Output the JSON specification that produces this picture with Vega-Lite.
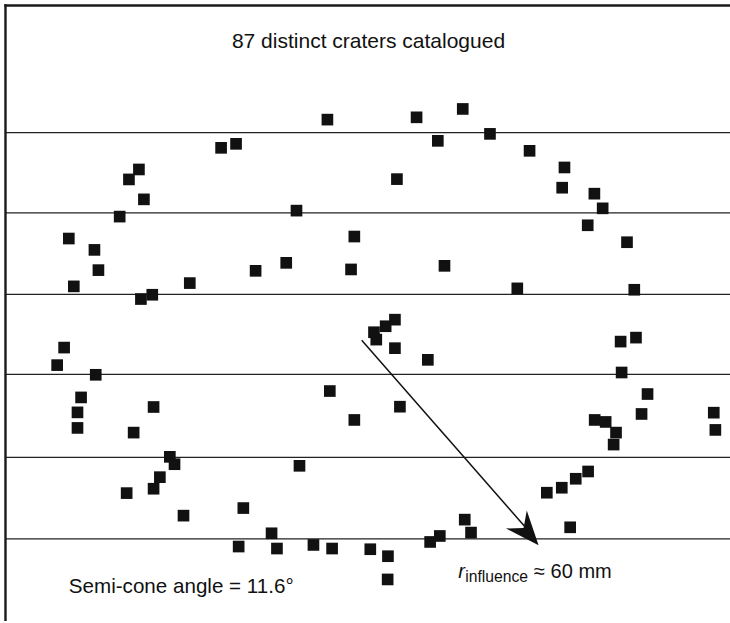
{
  "$schema": "https://vega.github.io/schema/vega-lite/v6.json",
  "width": 740,
  "height": 623,
  "autosize": {"type": "fit", "contains": "padding"},
  "padding": 0,
  "background": "white",
  "config": {"view": {"stroke": null}, "axis": {"disable": true}},
  "datasets": {
    "craters": [
      {"x": 328.3, "y": 120}, {"x": 221.7, "y": 148.3}, {"x": 236.7, "y": 144.3}, {"x": 139.3, "y": 170},
      {"x": 129.3, "y": 180}, {"x": 144.3, "y": 200}, {"x": 120, "y": 217.3}, {"x": 297.3, "y": 211.3},
      {"x": 69, "y": 239.3}, {"x": 94.7, "y": 250.7}, {"x": 98.7, "y": 271}, {"x": 74, "y": 287.3},
      {"x": 256.3, "y": 271.7}, {"x": 287, "y": 263.7}, {"x": 355.3, "y": 237.3}, {"x": 352, "y": 270.3},
      {"x": 190.3, "y": 284}, {"x": 141.3, "y": 300}, {"x": 152.7, "y": 295.7},
      {"x": 417.7, "y": 117.7}, {"x": 464, "y": 109.3}, {"x": 439, "y": 141.3}, {"x": 491.3, "y": 134.3},
      {"x": 531, "y": 151.3}, {"x": 566, "y": 168}, {"x": 563.7, "y": 188.3}, {"x": 596, "y": 194.3},
      {"x": 604.3, "y": 209}, {"x": 589.3, "y": 226}, {"x": 628.7, "y": 243}, {"x": 398, "y": 179.7},
      {"x": 445.7, "y": 266.7}, {"x": 518.7, "y": 289.3}, {"x": 636, "y": 290.7},
      {"x": 64.3, "y": 348.7}, {"x": 57.3, "y": 366.3}, {"x": 96, "y": 376}, {"x": 81.3, "y": 398.7},
      {"x": 77.7, "y": 413.7}, {"x": 77.7, "y": 429.3}, {"x": 154, "y": 408.3}, {"x": 134, "y": 434},
      {"x": 330.7, "y": 392.3}, {"x": 355.3, "y": 421.3}, {"x": 170.3, "y": 458.3}, {"x": 175, "y": 465.7},
      {"x": 160.3, "y": 478.7}, {"x": 154, "y": 490.3}, {"x": 127, "y": 494.7}, {"x": 184, "y": 517.3},
      {"x": 300.3, "y": 467.3}, {"x": 244, "y": 509.7}, {"x": 272.3, "y": 535}, {"x": 239.3, "y": 548.3},
      {"x": 277.7, "y": 550.3}, {"x": 314.3, "y": 546.7}, {"x": 333, "y": 550.3},
      {"x": 375, "y": 333.3}, {"x": 386.7, "y": 327.3}, {"x": 396, "y": 320.7}, {"x": 377.3, "y": 340.7},
      {"x": 396, "y": 349.3}, {"x": 429, "y": 361}, {"x": 401, "y": 408}, {"x": 622.3, "y": 342.7},
      {"x": 637.7, "y": 338.7}, {"x": 623.3, "y": 373.7}, {"x": 649.3, "y": 395.3}, {"x": 643.3, "y": 415.3},
      {"x": 596.3, "y": 421.3}, {"x": 607.3, "y": 423.3}, {"x": 617.7, "y": 434}, {"x": 615.3, "y": 446},
      {"x": 715.7, "y": 414}, {"x": 717.3, "y": 431.3}, {"x": 548.3, "y": 494.3}, {"x": 563.3, "y": 489.3},
      {"x": 577.3, "y": 480.3}, {"x": 589.7, "y": 473}, {"x": 571.7, "y": 529}, {"x": 466, "y": 521.3},
      {"x": 472.3, "y": 534.3}, {"x": 441, "y": 537.7}, {"x": 431.3, "y": 543.7}, {"x": 371.3, "y": 551},
      {"x": 389, "y": 558}, {"x": 388.7, "y": 581.3}
    ],
    "gridlines": [
      {"y": 133}, {"y": 213.5}, {"y": 295.3}, {"y": 375.5}, {"y": 458.8}, {"y": 540.7}
    ]
  },
  "layer": [
    {
      "data": {"name": "gridlines"},
      "mark": {"type": "rule", "color": "#222", "strokeWidth": 1.2},
      "encoding": {
        "y": {"field": "y", "type": "quantitative", "scale": {"domain": [0, 623], "reverse": true, "nice": false, "zero": false}, "axis": null},
        "x": {"datum": 6, "type": "quantitative", "scale": {"domain": [0, 740], "nice": false, "zero": false}, "axis": null},
        "x2": {"datum": 740}
      }
    },
    {
      "data": {"values": [{"y": 5.5}]},
      "mark": {"type": "rule", "color": "#1a1a1a", "strokeWidth": 2.4},
      "encoding": {
        "y": {"field": "y", "type": "quantitative", "axis": null},
        "x": {"datum": 4.3, "type": "quantitative", "axis": null},
        "x2": {"datum": 740}
      }
    },
    {
      "data": {"values": [{"x": 5.5}]},
      "mark": {"type": "rule", "color": "#1a1a1a", "strokeWidth": 2.4},
      "encoding": {
        "x": {"field": "x", "type": "quantitative", "axis": null},
        "y": {"datum": 4.3, "type": "quantitative", "axis": null},
        "y2": {"datum": 623}
      }
    },
    {
      "data": {"name": "craters"},
      "mark": {"type": "point", "shape": "square", "filled": true, "opacity": 1, "size": 136, "color": "#111"},
      "encoding": {
        "x": {"field": "x", "type": "quantitative", "axis": null},
        "y": {"field": "y", "type": "quantitative", "axis": null}
      }
    },
    {
      "data": {"values": [{"x": 362.7, "y": 341.3, "x2": 526, "y2": 528}]},
      "mark": {"type": "rule", "color": "#111", "strokeWidth": 1.5},
      "encoding": {
        "x": {"field": "x", "type": "quantitative", "axis": null},
        "y": {"field": "y", "type": "quantitative", "axis": null},
        "x2": {"field": "x2"},
        "y2": {"field": "y2"}
      }
    },
    {
      "data": {"values": [{"x": 528.9, "y": 534.1}]},
      "mark": {"type": "point", "shape": "M0,-1L0.81,1L0,0.35L-0.81,1Z", "filled": true, "opacity": 1, "size": 1156, "angle": 139.2, "color": "#111", "strokeWidth": 0},
      "encoding": {
        "x": {"field": "x", "type": "quantitative", "axis": null},
        "y": {"field": "y", "type": "quantitative", "axis": null}
      }
    },
    {
      "data": {"values": [{"x": 369.5, "y": 48, "label": "87 distinct craters catalogued"}]},
      "mark": {"type": "text", "font": "Liberation Sans", "fontSize": 21, "color": "#111", "baseline": "alphabetic", "align": "center"},
      "encoding": {
        "x": {"field": "x", "type": "quantitative", "axis": null},
        "y": {"field": "y", "type": "quantitative", "axis": null},
        "text": {"field": "label"}
      }
    },
    {
      "data": {"values": [{"x": 69, "y": 595, "label": "Semi-cone angle = 11.6°"}]},
      "mark": {"type": "text", "font": "Liberation Sans", "fontSize": 20.6, "color": "#111", "baseline": "alphabetic", "align": "left"},
      "encoding": {
        "x": {"field": "x", "type": "quantitative", "axis": null},
        "y": {"field": "y", "type": "quantitative", "axis": null},
        "text": {"field": "label"}
      }
    },
    {
      "data": {"values": [{"x": 459.5, "y": 579.5, "label": "r"}]},
      "mark": {"type": "text", "font": "Liberation Sans", "fontStyle": "italic", "fontSize": 20, "color": "#111", "baseline": "alphabetic", "align": "left"},
      "encoding": {
        "x": {"field": "x", "type": "quantitative", "axis": null},
        "y": {"field": "y", "type": "quantitative", "axis": null},
        "text": {"field": "label"}
      }
    },
    {
      "data": {"values": [{"x": 466.5, "y": 583.5, "label": "influence"}]},
      "mark": {"type": "text", "font": "Liberation Sans", "fontSize": 15.7, "color": "#111", "baseline": "alphabetic", "align": "left"},
      "encoding": {
        "x": {"field": "x", "type": "quantitative", "axis": null},
        "y": {"field": "y", "type": "quantitative", "axis": null},
        "text": {"field": "label"}
      }
    },
    {
      "data": {"values": [{"x": 535.5, "y": 579.5, "label": "≈ 60 mm"}]},
      "mark": {"type": "text", "font": "Liberation Sans", "fontSize": 20, "color": "#111", "baseline": "alphabetic", "align": "left"},
      "encoding": {
        "x": {"field": "x", "type": "quantitative", "axis": null},
        "y": {"field": "y", "type": "quantitative", "axis": null},
        "text": {"field": "label"}
      }
    }
  ]
}
